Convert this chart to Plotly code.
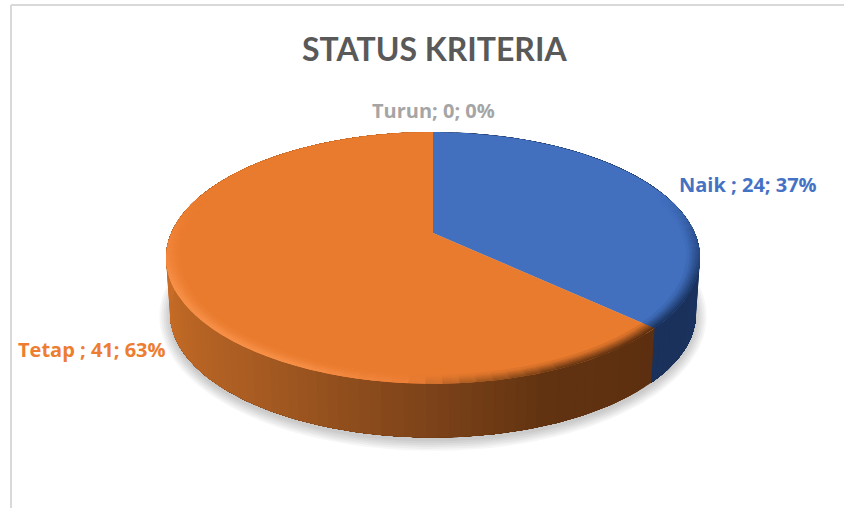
"""3D-Pie "STATUS KRITERIA" als Plotly-Figure (Perspektive per Hand, Plotly kennt keinen 3D-Pie)."""
import numpy as np
import plotly.graph_objects as go

CATEGORIES = ["Naik ", "Tetap ", "Turun"]
VALUES = [24, 41, 0]

TITLE_FONT = "Lato"
LABEL_FONT = "Open Sans"
TOP_COLORS = {"Naik ": "#4270BF", "Tetap ": "#E97B2E"}
LABEL_COLORS = {"Naik ": "#4472C4", "Tetap ": "#ED7D31", "Turun": "#A5A5A5"}
LABEL_POS = {"Naik ": (748, 184), "Tetap ": (92, 349), "Turun": (433, 110)}

# Perspektive: Einheitskreis -> Pixel (Achsen laufen in Bildpixeln)
CX, CY, PX, PY, PERSP = 433, 233, 261.7, -74.8, 0.198
# Bodenkreis = verschobene, leicht kleinere Kopie der Deckfläche
BOTTOM_SCALE, BOTTOM_SHIFT = 0.985, 56

# Farbverlauf nach Winkel (Grad im Uhrzeigersinn ab 12 Uhr)
WALL_STOPS = {
    "Naik ": [(0, "#1B3560"), (133, "#1A315C")],
    "Tetap ": [(133, "#5C2F10"), (160, "#623311"), (180, "#7C4219"),
               (215, "#A85C22"), (250, "#C56B26"), (290, "#CC6F28"), (360, "#CC6F28")],
}
EDGE_STOPS = {
    "Naik ": [(0, "#4270BF"), (70, "#4270BF"), (90, "#2F5597"), (110, "#1E3A6B"), (133, "#1B3560")],
    "Tetap ": [(133, "#5C2F10"), (155, "#6B3813"), (172, "#A85C22"), (184, "#EE8038"),
               (205, "#F79149"), (245, "#F79149"), (270, "#EF8136"), (290, "#E97B2E"), (360, "#E97B2E")],
}


def project(theta, r=1.0):
    u, v = r * np.sin(theta), r * np.cos(theta)
    w = 1 + PERSP * v
    return CX + PX * u / w, (CY + PY * v) / w


def project_bottom(theta):
    x, y = project(theta)
    return CX + BOTTOM_SCALE * (x - CX), CY + BOTTOM_SHIFT + BOTTOM_SCALE * (y - CY)


def rgb(hex_color):
    return np.array([int(hex_color[i:i + 2], 16) for i in (1, 3, 5)], dtype=float)


def mix(c0, c1, f):
    c = rgb(c0) * (1 - f) + rgb(c1) * f
    return "#%02X%02X%02X" % tuple(int(v) for v in c.round())


def ramp(stops, deg):
    for (d0, c0), (d1, c1) in zip(stops, stops[1:]):
        if d0 <= deg <= d1:
            return mix(c0, c1, (deg - d0) / max(d1 - d0, 1e-6))
    return stops[-1][1]


def poly(fig, x, y, color):
    fig.add_trace(go.Scatter(
        x=x, y=y, mode="lines", fill="toself", fillcolor=color,
        line=dict(width=0), hoverinfo="skip", showlegend=False,
    ))


fig = go.Figure()

# Schlagschatten unter dem Kuchen
circle = np.linspace(0, 2 * np.pi, 181)
for grow in (11, 9, 7, 5, 3, 1):
    bx, by = project_bottom(circle)
    sx = CX + (bx - CX) * (1 + grow / 270)
    sy = 314 + 3 + (by - 314) * (1 + grow / 130)
    poly(fig, sx, sy, "rgba(0,0,0,0.035)")

total = sum(VALUES)
start = 0.0
sectors = []
for cat, val in zip(CATEGORIES, VALUES):
    end = start + 360.0 * val / total
    if val > 0:
        sectors.append((cat, start, end))
    start = end

# Seitenwand: jedes Stück läuft bis zum Sektorende, das nächste malt drüber (keine Nähte)
for cat, d0, d1 in sectors:
    n = max(int((d1 - d0) / 2), 1)
    edges = np.linspace(d0, d1, n + 1)
    for a, b in zip(edges, edges[1:]):
        t = np.radians(np.linspace(a, d1, max(int(d1 - a), 2)))
        x0, y0 = project(t)
        x1, y1 = project_bottom(t[::-1])
        poly(fig, np.r_[x0, x1], np.r_[y0, y1], ramp(WALL_STOPS[cat], (a + b) / 2))

# Deckfläche
for cat, d0, d1 in sectors:
    t = np.radians(np.linspace(d0, d1, 200))
    x, y = project(t)
    poly(fig, np.r_[CX, x, CX], np.r_[CY, y, CY], TOP_COLORS[cat])

# Bevel-Kante: Ringe von außen nach innen, Farbe läuft in die Fläche aus
rings = np.linspace(1.0, 0.955, 9)
for k, (r0, r1) in enumerate(zip(rings, rings[1:])):
    fade = k / (len(rings) - 1)
    for cat, d0, d1 in sectors:
        n = max(int((d1 - d0) / 3), 1)
        edges = np.linspace(d0, d1, n + 1)
        for a, b in zip(edges, edges[1:]):
            deg = (a + b) / 2
            # Rückseite hat keine sichtbare Kante
            if ramp(EDGE_STOPS[cat], deg) == TOP_COLORS[cat]:
                continue
            t = np.radians(np.linspace(a, b + 3, 3)).clip(max=np.radians(d1))
            x0, y0 = project(t, r0)
            x1, y1 = project(t[::-1], r1 - 0.004)
            color = mix(ramp(EDGE_STOPS[cat], deg), TOP_COLORS[cat], fade)
            poly(fig, np.r_[x0, x1], np.r_[y0, y1], color)

# Datenbeschriftungen
for cat, val in zip(CATEGORIES, VALUES):
    fig.add_annotation(
        x=LABEL_POS[cat][0], y=LABEL_POS[cat][1],
        text=f"{cat}; {val}; {round(100 * val / total)}%",
        showarrow=False, font=dict(family=LABEL_FONT, size=20, color=LABEL_COLORS[cat], weight="bold"),
    )

fig.add_annotation(
    x=434, y=48, text="STATUS KRITERIA", showarrow=False,
    font=dict(family=TITLE_FONT, size=32, color="#595959", weight="bold"),
)

# Rahmen des eingebetteten Diagramms
fig.add_shape(type="line", x0=11, x1=844, y0=5, y1=5, line=dict(color="#D9D9D9", width=2))
fig.add_shape(type="line", x0=11, x1=11, y0=5, y1=508, line=dict(color="#D9D9D9", width=2))

fig.update_xaxes(range=[0, 844], visible=False, fixedrange=True)
fig.update_yaxes(range=[508, 0], visible=False, fixedrange=True)
fig.update_layout(
    width=844, height=508, margin=dict(l=0, r=0, t=0, b=0),
    plot_bgcolor="white", paper_bgcolor="white", showlegend=False,
)

# Browser-Standardrand der Seite entfernen
fig.write_html("out.html", config={"displayModeBar": False},
               post_script="document.body.style.margin='0';")
